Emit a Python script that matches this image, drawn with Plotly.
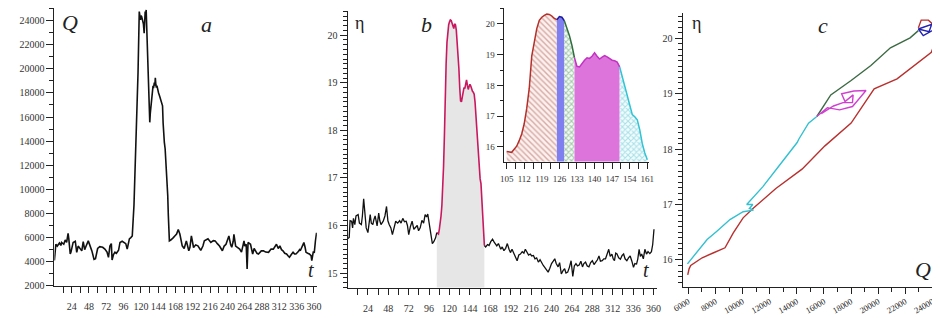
import plotly.graph_objects as go

# ---------------- data ----------------
# Panel a: water discharge Q (m3/s) vs time t (hours)
q_hours = [0, 1, 2, 4, 7, 9, 10, 13, 15, 17, 19, 20, 22, 23, 26, 29, 31, 33, 35, 38,
           40, 42, 44, 47, 49, 52, 55, 57, 60, 63, 67, 70, 73, 75, 77, 79, 80, 82, 84, 86,
           89, 91, 94, 97, 99, 101, 104, 106, 108,
           110.4, 112.5, 114, 116, 117.7, 118.5, 119.5, 120.3, 121, 122, 122.7, 123.5, 124.5,
           125.3, 125.9, 126.6, 127.3, 128, 128.6, 130, 131, 132.3, 133, 134, 135, 136.8,
           137.5, 138.6, 139.3, 140, 140.7, 141.4, 142.2, 143.2, 144.5, 145.9, 147, 148.6,
           150, 150.8, 151.4, 152.5, 153.6, 154.5, 155.2, 155.9, 156.3, 156.8, 157.2, 158,
           158.8, 159.5,
           161.4, 163, 165, 167, 169.5, 171.8, 174, 177.3, 180, 183, 186.4, 188, 190, 193,
           196, 199, 203, 206, 208, 213, 217, 220.5, 223, 226, 229, 233, 235.5, 238, 240.5,
           242, 244.5, 246, 248, 249, 251.4, 254.5, 257, 259.5, 263, 264, 266, 267.3, 268.6,
           272, 275, 277, 279, 281, 283, 287, 290, 293, 297, 300.5, 303.6, 306, 308, 310.5,
           312.7, 315, 317, 319.5, 322, 324, 326, 328.6, 331, 333, 335, 337.7, 340, 341, 343,
           346, 347.7, 349, 351.4, 353.6, 356, 357, 359, 360.5, 362, 363.6]
q_values = [4100, 5000, 5450, 5300, 5550, 5350, 5600, 5450, 5800, 5600, 6350, 5900, 4640, 4800,
            5600, 5700, 4780, 5300, 5100, 4900, 5670, 5000, 5300, 5730, 5400, 4900, 4200, 4250,
            5100, 5250, 5200, 5050, 4800, 4370, 5300, 5510, 4150, 4600, 4800, 4700, 4950, 5600,
            5700, 5600, 5500, 5050, 5900, 6000, 6140,
            8700, 12300, 15200, 19670, 24740, 24200, 24050, 24400, 24330, 24100, 23920, 23700,
            22960, 23800, 24740, 24500, 24880, 23500, 21040, 18500, 16930, 15560, 16300, 16930,
            17800, 18580, 18400, 18850, 18600, 19260, 18700, 18440, 18600, 18160, 18000, 17750,
            17500, 17070, 16930, 15500, 14330, 13900, 13370, 12500, 11000, 10630, 10300, 10220,
            9500, 7900, 6500, 5730,
            5800, 5860, 6000, 6140, 6300, 6680, 6300, 5320, 5100, 5730, 4910, 5200, 6140, 5180,
            5400, 5320, 4950, 5300, 5730, 5900, 5600, 5750, 5730, 5500, 5300, 4910, 5300, 5450,
            5800, 6140, 5400, 5200, 5700, 6270, 5300, 5200, 5050, 4800, 5730, 5300, 5450, 3410,
            5600, 5450, 4640, 5100, 4910, 4700, 4640, 4900, 4910, 4800, 4780, 5050, 5050, 5300,
            5450, 5100, 5320, 5000, 4910, 4700, 4640, 4500, 4370, 4600, 4780, 4650, 4640, 4800,
            5000, 4910, 5200, 5590, 5200, 4780, 4700, 4640, 4500, 4100, 4800, 4780, 5700, 6400]

# Panel b: water level eta (m) vs time t (hours)
eta_pre_hours = [0, 2, 3, 4.8, 6, 7, 8.6, 10, 12.5, 14, 16.3, 17.5, 19, 20.5, 22, 24, 25.5, 26.7,
                 28, 29.8, 31, 32.5, 34.8, 36.7, 38, 39.4, 42, 44, 45.9, 47.5, 49, 51, 52.8, 54.5,
                 56.7, 59, 61.3, 63, 65, 67, 69, 70.5, 72, 74, 76, 78, 79.8, 82, 83.6, 85.5, 87.5,
                 89.5, 91.3, 93, 94.4, 96, 97, 98.5, 99.8, 101.5, 103.6, 105]
eta_pre = [15.72, 15.75, 16.1, 16.09, 15.95, 16.15, 16.02, 16.2, 16.23, 16.05, 16.02, 16.2, 16.56,
           16.2, 15.95, 15.85, 16.05, 16.23, 16.05, 16.02, 16.12, 16.2, 15.99, 16.26, 16.1, 16.02,
           16.09, 16.2, 16.4, 16.1, 16.02, 15.95, 15.81, 15.95, 16.09, 16.05, 16.1, 16.05, 16.15,
           16.08, 16.09, 16.0, 15.81, 15.98, 16.09, 15.92, 15.95, 16.0, 15.89, 15.95, 16.11, 16.05,
           16.23, 16.18, 16.24, 16.05, 15.89, 15.72, 15.62, 15.66, 15.74, 15.85]

flood_hours = [105, 106, 107, 108, 109, 110, 111, 112, 113, 114, 115, 116, 117, 118, 119, 120,
               121, 122, 123, 124, 125, 126, 127, 128, 129, 130, 131, 132, 133, 134, 135, 136,
               137, 138, 139, 140, 141, 142, 143, 144, 145, 146, 147, 148, 149, 150, 151, 152,
               153, 154, 155, 156, 157, 158, 159, 160, 161]
flood_eta = [15.85, 15.84, 15.82, 15.92, 16.02, 16.2, 16.42, 16.75, 17.25, 17.9,
             18.95, 19.4, 19.85, 20.12, 20.22, 20.28, 20.32, 20.31, 20.26, 20.18,
             20.14, 20.24, 20.22, 20.1, 19.88, 19.62, 19.3, 18.9, 18.62, 18.6,
             18.72, 18.82, 18.9, 18.88, 18.95, 19.06, 18.95, 18.86, 18.92, 18.97,
             18.93, 18.86, 18.82, 18.8, 18.76, 18.6, 18.3, 18.0, 17.72, 17.4,
             17.05, 16.98, 16.88, 16.55, 16.1, 15.8, 15.58]

eta_post_hours = [162.5, 164.7, 166.5, 168.5, 170.6, 172.5, 175.6, 177.5, 180.3, 182,
                  184, 186, 188, 190, 191.8, 193.5, 195.7, 197.5, 199.5, 201.5,
                  203.4, 205.5, 207.5, 209.2, 211, 213, 215, 216.7, 218.7, 220.5,
                  222.5, 224.5, 226.5, 228.5, 230.3, 232, 234, 236, 238, 240,
                  242, 243.8, 245.5, 247.7, 249.5, 251.5, 253.5, 255.4, 257, 259,
                  261, 263, 265, 266.8, 268.7, 270.5, 272.5, 274.5, 276.4, 278,
                  280, 282, 284, 286, 288, 290, 292, 294, 295.8, 297.5,
                  299.6, 301.5, 303.5, 305.5, 307.3, 309, 311, 312.5, 314, 315.5,
                  317, 319, 321, 323, 324.8, 326.5, 328.6, 330.5, 332.5, 334.5,
                  336.4, 338, 340, 341.5, 343, 344.5, 346, 348, 349.8, 351.7,
                  353.5, 355.6, 357.5, 359, 360.5]
eta_post = [15.55, 15.6, 15.58, 15.66, 15.71, 15.65, 15.57, 15.62, 15.5, 15.55,
            15.47, 15.52, 15.62, 15.5, 15.43, 15.5, 15.4, 15.35, 15.26, 15.38,
            15.4, 15.45, 15.42, 15.5, 15.44, 15.38, 15.4, 15.36, 15.37, 15.3,
            15.32, 15.23, 15.28, 15.2, 15.16, 15.12, 15.08, 15.02, 15.1, 15.2,
            15.25, 15.3, 15.2, 15.13, 15.22, 14.98, 15.05, 15.09, 15.0, 15.02,
            15.12, 15.26, 14.93, 15.15, 15.2, 15.15, 15.17, 15.25, 15.13, 15.2,
            15.23, 15.15, 15.13, 15.22, 15.26, 15.18, 15.23, 15.28, 15.36, 15.25,
            15.26, 15.3, 15.3, 15.4, 15.5, 15.35, 15.4, 15.3, 15.26, 15.42,
            15.4, 15.32, 15.29, 15.37, 15.4, 15.3, 15.26, 15.32, 15.36, 15.25,
            15.12, 15.2, 15.19, 15.3, 15.5, 15.35, 15.4, 15.3, 15.5, 15.4,
            15.45, 15.41, 15.45, 15.6, 15.92]

# Flood phases (inset / panel c): boundaries in hours
phase_bounds = [105, 125, 128, 132, 150, 161]

# Panel c: eta vs Q loop, per phase
c_red_q = [5950, 6050, 6170, 7015, 7860, 8700, 9310, 10035, 10760, 12450, 14380, 16070, 18000,
           19700, 21390, 23920, 24400, 24260, 23700, 23170, 22960]
c_red_eta = [15.73, 15.84, 15.9, 16.04, 16.13, 16.22, 16.49, 16.76, 16.93, 17.29, 17.64, 18.06,
             18.47, 19.09, 19.27, 19.75, 20.07, 20.2, 20.33, 20.33, 20.19]
c_blue_q = [22960, 23320, 24550, 24150, 22960, 23750, 23950]
c_blue_eta = [20.17, 20.05, 20.22, 20.27, 20.17, 20.12, 20.26]
c_green_q = [22960, 22350, 20900, 19460, 18000, 16500, 15470]
c_green_eta = [20.14, 20.01, 19.83, 19.51, 19.24, 18.98, 18.59]
c_mag_q = [15470, 16250, 17150, 18100, 18450, 19100, 18200, 17300, 17550, 18150, 18100, 17400,
           16700, 15800]
c_mag_eta = [18.59, 18.75, 18.71, 18.77, 18.87, 19.06, 19.05, 19.0, 18.86, 18.98, 18.84, 18.84,
             18.78, 18.64]
c_cyan_q = [15470, 14860, 14140, 14020, 12690, 11480, 10300, 10750, 10500, 10800, 10035, 9065,
            8100, 7380, 5930]
c_cyan_eta = [18.59, 18.47, 18.18, 18.12, 17.70, 17.32, 17.0, 17.0, 16.93, 16.9, 16.87, 16.73,
              16.52, 16.37, 15.93]

# Tick labels
hour_tick_labels = [24, 48, 72, 96, 120, 144, 168, 192, 216, 240, 264, 288, 312, 336, 360]
inset_tick_labels = [105, 112, 119, 126, 133, 140, 147, 154, 161]

# ---------------- styling ----------------
W, H = 940, 318
SERIF = "Liberation Serif"
AX = "#222222"


def px(x):
    return x / W


def py(y):
    return 1 - y / H


def hour_ticks(labels, step):
    vals, texts = [], []
    for v in labels:
        vals += [v - step / 2, v]
        texts += ["", str(v)]
    return vals, texts


base_axis = dict(showline=True, linecolor=AX, linewidth=1, ticks="outside", tickcolor=AX,
                 tickwidth=1, showgrid=False, zeroline=False,
                 tickfont=dict(family=SERIF, size=10, color="#333333"))

fig = go.Figure()

# Panel a
fig.add_trace(go.Scatter(x=q_hours, y=q_values, mode="lines",
                         line=dict(color="#111111", width=1.6), xaxis="x", yaxis="y"))

# Panel b: shaded flood + lines
fig.add_trace(go.Scatter(x=flood_hours, y=flood_eta, mode="lines", fill="tozeroy",
                         fillcolor="#e6e6e6", line=dict(color="#c8185f", width=1.6),
                         xaxis="x2", yaxis="y2"))
fig.add_trace(go.Scatter(x=eta_pre_hours, y=eta_pre, mode="lines",
                         line=dict(color="#111111", width=1.3), xaxis="x2", yaxis="y2"))
fig.add_trace(go.Scatter(x=[flood_hours[-1]] + eta_post_hours, y=[flood_eta[-1]] + eta_post,
                         mode="lines", line=dict(color="#111111", width=1.3),
                         xaxis="x2", yaxis="y2"))

# Inset: phases
phase_styles = [
    dict(line="#b5302a", fill="#fbeeee", pattern=dict(shape="\\", fgcolor="#b0665c", bgcolor="#fcf0ee", size=4, solidity=0.35)),
    dict(line="#1c1c9c", fill="#7f7ff0", pattern=None),
    dict(line="#2f6e3e", fill="#ffffff", pattern=dict(shape="x", fgcolor="#4f8f60", bgcolor="#f4fbf5", size=4, solidity=0.45)),
    dict(line="#c233c2", fill="#dc74dc", pattern=None),
    dict(line="#33c4d4", fill="#ffffff", pattern=dict(shape="x", fgcolor="#5cc6d4", bgcolor="#f3fcfd", size=4, solidity=0.45)),
]
for i, st in enumerate(phase_styles):
    b0, b1 = phase_bounds[i], phase_bounds[i + 1]
    xs = [t for t in flood_hours if b0 <= t <= b1]
    ys = [e for t, e in zip(flood_hours, flood_eta) if b0 <= t <= b1]
    kw = dict(x=xs, y=ys, mode="lines", fill="tozeroy", fillcolor=st["fill"],
              line=dict(color=st["line"], width=1.5), xaxis="x3", yaxis="y3")
    if st["pattern"] is not None:
        kw["fillpattern"] = st["pattern"]
    fig.add_trace(go.Scatter(**kw))

# Panel c loops
for qq, ee, col in [(c_red_q, c_red_eta, "#b8312f"), (c_green_q, c_green_eta, "#3d6b45"),
                    (c_cyan_q, c_cyan_eta, "#33c0d0"), (c_mag_q, c_mag_eta, "#d040d0"),
                    (c_blue_q, c_blue_eta, "#2222b0")]:
    fig.add_trace(go.Scatter(x=qq, y=ee, mode="lines", line=dict(color=col, width=1.4),
                             xaxis="x4", yaxis="y4"))

hv, ht = hour_ticks(hour_tick_labels, 24)
iv, it = hour_ticks(inset_tick_labels, 7)

fig.update_layout(
    width=W, height=H, margin=dict(l=0, r=0, t=0, b=0),
    paper_bgcolor="white", plot_bgcolor="white", showlegend=False,
    xaxis=dict(base_axis, domain=[px(36), px(303)], range=[0, 364], anchor="y",
               tickmode="array", tickvals=hv, ticktext=ht, ticklen=6, ticklabelstandoff=5),
    yaxis=dict(base_axis, domain=[py(282.3), py(0.5)], range=[2000, 25000], anchor="x",
               tickmode="linear", tick0=2000, dtick=2000, tickformat="d", ticklen=7,
               minor=dict(dtick=1000, tick0=0, ticks="outside", ticklen=4, tickcolor=AX)),
    xaxis2=dict(base_axis, domain=[px(334.2), px(649)], range=[0, 364], anchor="y2",
                tickmode="array", tickvals=hv, ticktext=ht, ticklen=6, ticklabelstandoff=5),
    yaxis2=dict(base_axis, domain=[py(284), py(3)], range=[14.696, 20.51], anchor="x2",
                tickmode="linear", tick0=15, dtick=1, ticklen=7,
                minor=dict(dtick=0.1, tick0=0, ticks="outside", ticklen=4, tickcolor=AX)),
    xaxis3=dict(base_axis, domain=[px(493), px(641)], range=[103.8, 161.7], anchor="y3",
                tickmode="array", tickvals=iv, ticktext=it, ticklen=6, ticklabelstandoff=3,
                tickfont=dict(family=SERIF, size=9, color="#333333")),
    yaxis3=dict(base_axis, domain=[py(156), py(0)], range=[15.52, 20.52], anchor="x3",
                tickmode="linear", tick0=16, dtick=1, ticklen=6,
                tickfont=dict(family=SERIF, size=9, color="#333333"),
                minor=dict(dtick=0.5, tick0=0, ticks="outside", ticklen=3, tickcolor=AX)),
    xaxis4=dict(base_axis, domain=[px(675), px(937)], range=[5565, 24560], anchor="y4",
                tickmode="linear", tick0=0, dtick=2000, tickformat="d", tickangle=-30, ticklen=6,
                tickfont=dict(family=SERIF, size=8.5, color="#222222"),
                minor=dict(dtick=1000, tick0=0, ticks="outside", ticklen=4, tickcolor=AX)),
    yaxis4=dict(base_axis, domain=[py(283), py(5)], range=[15.52, 20.46], anchor="x4",
                tickmode="linear", tick0=16, dtick=1, ticklen=7,
                minor=dict(dtick=0.1, tick0=0, ticks="outside", ticklen=4, tickcolor=AX)),
)

ann_font = dict(family=SERIF, color="#222222")
labels = [
    ("<i>Q</i>", 52, 15, 22), ("<i>a</i>", 191, 17, 22), ("<i>t</i>", 297, 266, 20),
    ("η", 346, 15, 18), ("<i>b</i>", 415, 17, 22), ("<i>t</i>", 638, 266, 20),
    ("η", 689, 15, 18), ("<i>c</i>", 818, 18, 22), ("<i>Q</i>", 920, 266, 22),
]
for txt, x, y, size in labels:
    fig.add_annotation(text=txt, x=px(x), y=py(y), xref="paper", yref="paper",
                       showarrow=False, xanchor="center", yanchor="middle",
                       font=dict(ann_font, size=size))

fig.write_html("out.html")
